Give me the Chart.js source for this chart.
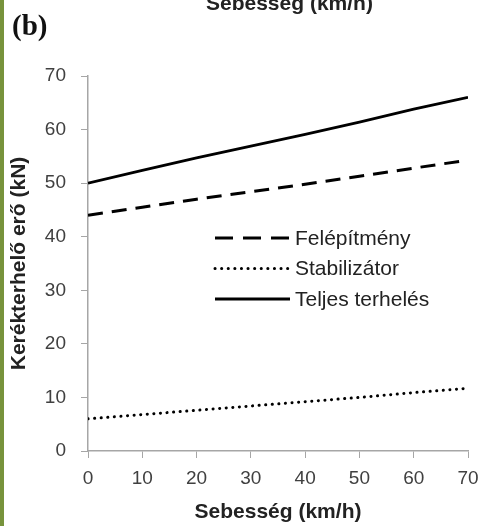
<!DOCTYPE html>
<html lang="hu">
<head>
<meta charset="UTF-8">
<title>Kerékterhelő erő</title>
<style>
  html, body { margin: 0; padding: 0; background: #fff; }
  body { width: 484px; height: 526px; position: relative; overflow: hidden; font-family: "Liberation Sans", Arial, sans-serif; }
  #edge { position: absolute; left: 0; top: 0; width: 4px; height: 526px; background: #77933c; }
  #tag { position: absolute; left: 12px; top: 8px; font: bold 29px/34px "Liberation Serif", serif; color: #111; }
  #cut { position: absolute; left: 206px; top: -9px; font: bold 21px/24px "Liberation Sans", Arial, sans-serif; color: #222; }
  #chart { position: absolute; left: 0; top: 0; }
</style>
</head>
<body>
<canvas id="chart" width="484" height="526"></canvas>
<div id="edge"></div>
<div id="tag">(b)</div>
<div id="cut">Sebesség (km/h)</div>
<script src="https://cdn.jsdelivr.net/npm/chart.js@4"></script>
<script>
  var speed = [0, 10, 20, 30, 40, 50, 60, 70];
  var felepitmeny = [44, 45.5, 47, 48.4, 49.8, 51.3, 52.8, 54.3];
  var stabilizator = [6, 6.8, 7.6, 8.4, 9.2, 10.0, 10.9, 11.7];
  var teljes = [50, 52.4, 54.7, 56.9, 59.1, 61.4, 63.8, 66.0];
  var seriesNames = ['Felépítmény', 'Stabilizátor', 'Teljes terhelés'];

  function pts(vals) {
    return speed.map(function (s, i) { return { x: s, y: vals[i] }; });
  }

  // legend drawn inside the plot, next to the lines
  var innerLegend = {
    id: 'innerLegend',
    afterDatasetsDraw: function (chart) {
      var c = chart.ctx;
      var a = chart.chartArea;
      var x0 = a.left + 127, x1 = a.left + 202, tx = a.left + 207;
      var y0 = a.top + 162, step = 30.5;
      chart.data.datasets.forEach(function (ds, i) {
        var y = y0 + i * step;
        c.save();
        c.strokeStyle = ds.borderColor;
        c.lineWidth = ds.borderWidth;
        c.lineCap = ds.borderCapStyle || 'butt';
        c.setLineDash(ds.legendDash || ds.borderDash || []);
        c.beginPath();
        c.moveTo(x0, y);
        c.lineTo(x1, y);
        c.stroke();
        c.setLineDash([]);
        c.fillStyle = '#222';
        c.font = '21px "Liberation Sans", Arial, sans-serif';
        c.textBaseline = 'middle';
        c.fillText(ds.label, tx, y + 1);
        c.restore();
      });
    }
  };

  var tickFont = { family: '"Liberation Sans", Arial, sans-serif', size: 19 };
  var titleFont = { family: '"Liberation Sans", Arial, sans-serif', size: 21, weight: 'bold' };

  new Chart(document.getElementById('chart'), {
    type: 'line',
    data: {
      datasets: [
        {
          label: seriesNames[0], data: pts(felepitmeny),
          borderColor: '#000', borderWidth: 3, borderDash: [15, 9], legendDash: [18, 10], pointRadius: 0
        },
        {
          label: seriesNames[1], data: pts(stabilizator),
          borderColor: '#000', borderWidth: 3, borderDash: [0.1, 6.5], borderCapStyle: 'round', pointRadius: 0
        },
        {
          label: seriesNames[2], data: pts(teljes),
          borderColor: '#000', borderWidth: 2.8, pointRadius: 0
        }
      ]
    },
    options: {
      responsive: false,
      animation: false,
      layout: { padding: { top: 76, right: 16, left: 3, bottom: 0 } },
      plugins: { legend: { display: false }, tooltip: { enabled: false } },
      scales: {
        x: {
          type: 'linear', min: 0, max: 70,
          ticks: { stepSize: 10, color: '#404040', font: tickFont, padding: 9, maxRotation: 0 },
          grid: { drawOnChartArea: false, tickLength: 7, color: '#a6a6a6' },
          border: { color: '#a6a6a6', width: 1.5 },
          title: { display: true, text: 'Sebesség (km/h)', color: '#222', font: titleFont, padding: { top: 3, bottom: 1 } },
          afterFit: function (scale) {
            scale.height = 75;
            scale.paddingRight = 0;
            scale.paddingLeft = 0;
          }
        },
        y: {
          min: 0, max: 70,
          ticks: { stepSize: 10, color: '#404040', font: tickFont, padding: 15 },
          grid: { drawOnChartArea: false, tickLength: 7, color: '#a6a6a6' },
          border: { color: '#a6a6a6', width: 1.5 },
          title: { display: true, text: 'Kerékterhelő erő (kN)', color: '#222', font: titleFont, padding: { top: 4, bottom: 4 } },
          afterFit: function (scale) { scale.width = 85; }
        }
      }
    },
    plugins: [innerLegend]
  });
</script>
</body>
</html>
